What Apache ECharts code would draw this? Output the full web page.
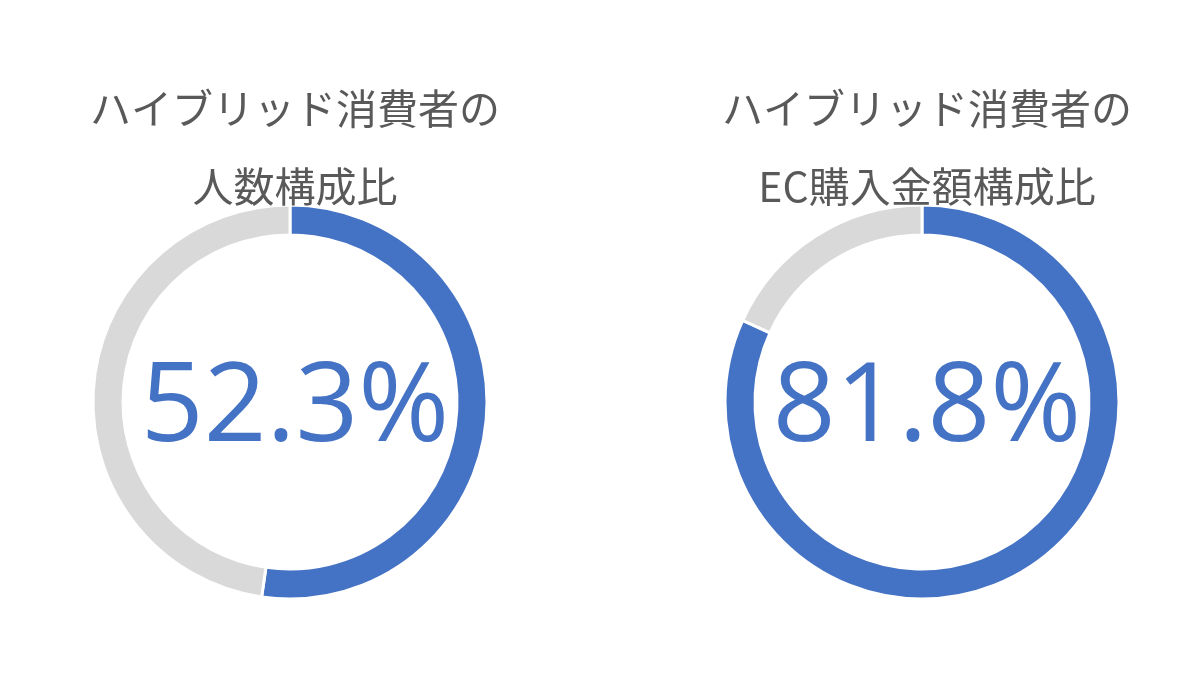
<!DOCTYPE html>
<html>
<head>
<meta charset="utf-8">
<style>html,body{margin:0;padding:0;background:#fff}#main{width:1200px;height:700px}</style>
<script src="https://cdn.jsdelivr.net/npm/echarts@6/dist/echarts.min.js"></script>
</head>
<body>
<div id="main"></div>
<script>
// 左: 人数構成比, 右: EC購入金額構成比
var chartTitles = [
    ['ハイブリッド消費者の', '人数構成比'],
    ['ハイブリッド消費者の', 'EC購入金額構成比']
];
var hybridShare = [52.3, 81.8];
var centers = [[290, 402], [922, 402]];

var chart = echarts.init(document.getElementById('main'));
var font = '"Noto Sans CJK JP", "Noto Sans", sans-serif';
var titles = [];
var series = [];
hybridShare.forEach(function (v, i) {
    titles.push({
        text: chartTitles[i][0] + '\n' + chartTitles[i][1],
        left: centers[i][0], top: 64, textAlign: 'center',
        textStyle: {fontFamily: font, fontSize: 41, fontWeight: 'normal', color: '#595959', lineHeight: 78}
    });
    titles.push({
        text: v.toFixed(1) + '%',
        left: centers[i][0], top: centers[i][1] - 52, textAlign: 'center',
        textStyle: {fontFamily: '"Open Sans", sans-serif', fontSize: 110, fontWeight: 'normal', color: '#4472C4'}
    });
    series.push({
        type: 'pie',
        center: centers[i],
        radius: [167, 197],
        startAngle: 90,
        clockwise: true,
        silent: true,
        label: {show: false},
        labelLine: {show: false},
        itemStyle: {borderColor: '#fff', borderWidth: 3},
        data: [
            {value: v, itemStyle: {color: '#4472C4'}},
            {value: +(100 - v).toFixed(1), itemStyle: {color: '#D9D9D9'}}
        ]
    });
});

chart.setOption({
    animation: false,
    title: titles,
    series: series
});
</script>
</body>
</html>
